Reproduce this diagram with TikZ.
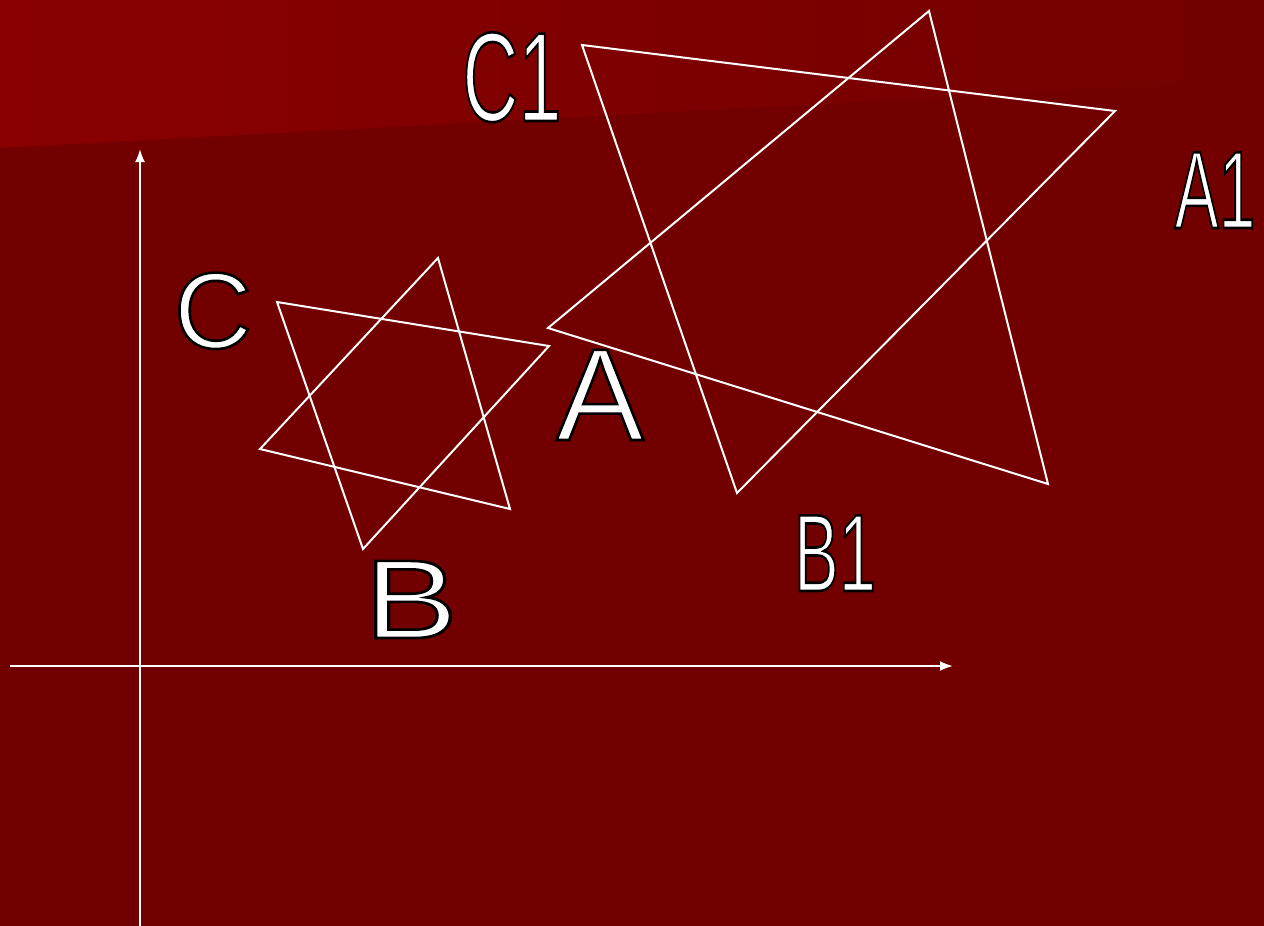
\documentclass[tikz,border=0pt]{standalone}
\usepackage{fontspec}
\setmainfont{Liberation Sans}
\usepackage{graphicx}
\usetikzlibrary{arrows.meta}
\definecolor{bgred}{HTML}{720000}
\definecolor{cornerred}{HTML}{8A0000}
\newcommand{\olab}[1]{\textcolor{white}{\special{pdf:literal direct q 0 0 0 RG 2.6 w 2 Tr}#1\special{pdf:literal direct Q}}}
\tikzset{
  edge/.style={draw=white, line width=2pt, line join=miter},
  axis/.style={draw=white, line width=2pt, -{Latex[length=13pt,width=10pt]}},
  lab/.style={inner sep=0pt, anchor=base},
}
\begin{document}
\begin{tikzpicture}[x=1pt,y=-1pt]
\useasboundingbox (0,0) rectangle (1264,926);
\fill[bgred] (0,0) rectangle (1264,926);
\shade[left color=cornerred, right color=bgred, shading angle=90] (0,0) -- (1264,0) -- (1264,80) -- (0,148) -- cycle;
% axes
\coordinate (yb) at (140,926);
\coordinate (yt) at (140,149);
\coordinate (xl) at (10,666);
\coordinate (xr) at (953,666);
\draw[axis] (yb) -- (yt);
\draw[axis] (xl) -- (xr);
% small star
\coordinate (s1) at (277,302);
\coordinate (s2) at (549,346);
\coordinate (s3) at (363,549);
\coordinate (t1) at (438,258);
\coordinate (t2) at (510,509);
\coordinate (t3) at (260,449);
\draw[edge] (s1) -- (s2) -- (s3) -- cycle;
\draw[edge] (t1) -- (t2) -- (t3) -- cycle;
% large star
\coordinate (L1) at (582,45);
\coordinate (L2) at (1115,111);
\coordinate (L3) at (737,493);
\coordinate (M1) at (929,11);
\coordinate (M2) at (1048,484);
\coordinate (M3) at (548,328);
\draw[edge] (L1) -- (L2) -- (L3) -- cycle;
\draw[edge] (M1) -- (M2) -- (M3) -- cycle;
% labels
\node[lab] (C) at (213,348) {\fontsize{108}{108}\selectfont\olab{C}};
\node[lab] (A) at (600,440) {\fontsize{131}{131}\selectfont\olab{A}};
\node[lab] (B) at (411,638) {\scalebox{1.25}[1]{\fontsize{112}{112}\selectfont\olab{B}}};
\node[lab] (C1) at (512,121) {\scalebox{0.61}[1]{\fontsize{127}{127}\selectfont\olab{C1}}};
\node[lab] (A1) at (1215,228) {\scalebox{0.60}[1]{\fontsize{110}{110}\selectfont\olab{A1}}};
\node[lab] (B1) at (835,591) {\scalebox{0.61}[1]{\fontsize{110}{110}\selectfont\olab{B1}}};
\end{tikzpicture}
\end{document}
